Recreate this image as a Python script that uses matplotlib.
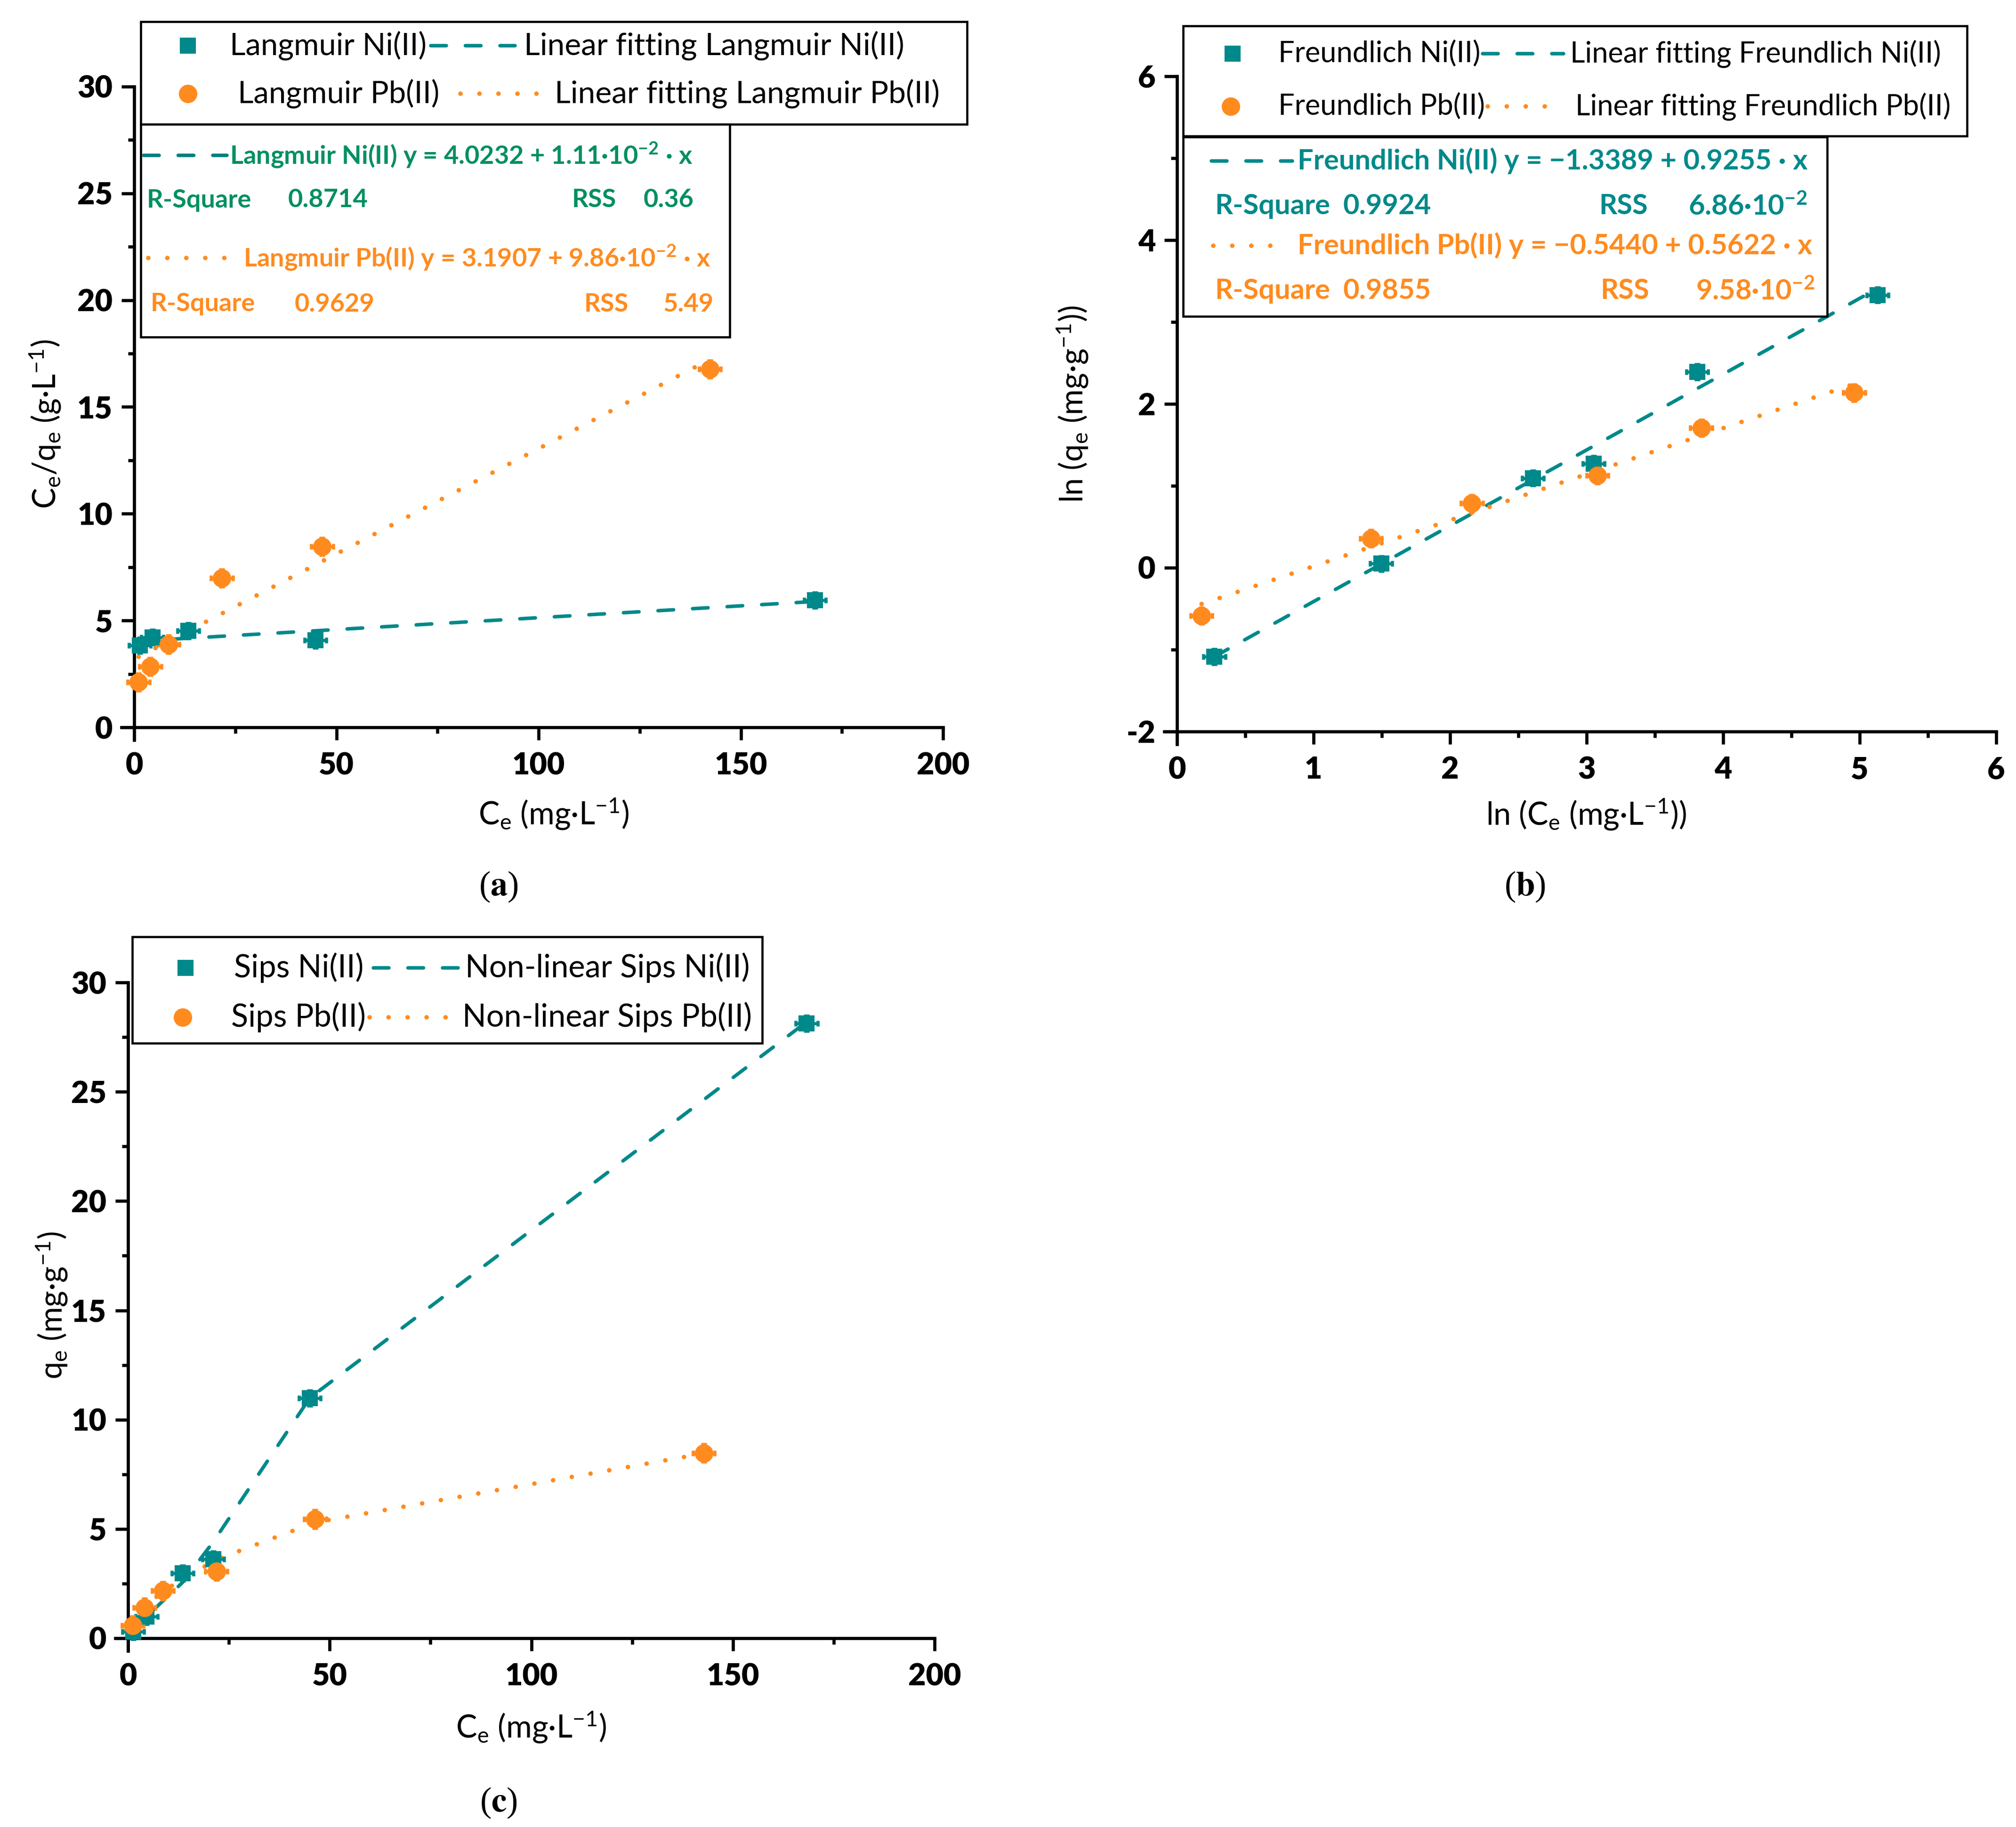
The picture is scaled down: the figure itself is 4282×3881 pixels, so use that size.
import matplotlib
matplotlib.use('Agg')
import matplotlib.pyplot as plt
from matplotlib.lines import Line2D
from matplotlib.patches import Rectangle
from matplotlib.ticker import AutoMinorLocator

plt.rcParams['font.family'] = ['Lato', 'DejaVu Sans']
plt.rcParams['mathtext.fontset'] = 'custom'
plt.rcParams['mathtext.rm'] = 'Lato'
plt.rcParams['mathtext.it'] = 'Lato:italic'
plt.rcParams['mathtext.bf'] = 'Lato:bold'

# ---------------- data ----------------
# (a) Langmuir linear form: Ce/qe vs Ce
lang_ni_x = [1.4, 4.5, 13.4, 44.8, 168.3]
lang_ni_y = [3.84, 4.22, 4.52, 4.08, 5.95]
lang_pb_x = [1.1, 4.0, 8.5, 21.7, 46.5, 142.4]
lang_pb_y = [2.11, 2.85, 3.89, 6.99, 8.47, 16.78]
lang_ni_fit_x = [1.4, 168.3]
lang_ni_fit_y = [4.039, 5.891]
lang_pb_fit_x = [1.1, 142.4]
lang_pb_fit_y = [3.299, 17.231]

# (b) Freundlich linear form: ln qe vs ln Ce
fr_ni_x = [0.274, 1.495, 2.607, 3.052, 3.810, 5.130]
fr_ni_y = [-1.086, 0.05, 1.093, 1.27, 2.39, 3.33]
fr_pb_x = [0.18, 1.42, 2.16, 3.08, 3.84, 4.96]
fr_pb_y = [-0.586, 0.357, 0.786, 1.129, 1.707, 2.136]
fr_ni_fit_x = [0.274, 5.130]
fr_ni_fit_y = [-1.085, 3.409]
fr_pb_fit_x = [0.18, 4.96]
fr_pb_fit_y = [-0.443, 2.244]

# (c) Sips non-linear: qe vs Ce
sips_ni_x = [1.3, 4.6, 13.5, 21.1, 45.1, 168.3]
sips_ni_y = [0.3, 1.0, 2.97, 3.62, 10.98, 28.13]
sips_pb_x = [1.2, 4.1, 8.6, 21.9, 46.4, 142.8]
sips_pb_y = [0.58, 1.4, 2.17, 3.06, 5.45, 8.47]
sips_ni_fit_x = [0.3, 1.3, 4.6, 13.5, 21.1, 45.1, 168.3]
sips_ni_fit_y = [0.15, 0.25, 1.0, 2.55, 4.4, 11.0, 28.2]
sips_pb_fit_x = [1.2, 4.1, 8.6, 21.9, 46.4, 142.8]
sips_pb_fit_y = [0.55, 1.4, 2.15, 3.6, 5.3, 8.45]

# tick labels
ce_ticks = [0, 50, 100, 150, 200]
ratio_ticks = [0, 5, 10, 15, 20, 25, 30]
lnce_ticks = [0, 1, 2, 3, 4, 5, 6]
lnq_ticks = [-2, 0, 2, 4, 6]
lnq_labels = ['-2', '0', '2', '4', '6']

TEAL = '#00898A'
TEAL_DK = '#007F7E'
GREEN_TXT = '#008F62'
ORANGE = '#FF8B1F'
TICK_WEIGHT = 'heavy'

W, H = 4282, 3881
fig = plt.figure(figsize=(W / 300, H / 300), dpi=300)


def fx(px):
    return px / W


def fy(py):
    return 1 - py / H


def make_axes(x0, x1, y0, y1):
    # pixel box of the plotting area (x0 left, x1 right, y0 top, y1 bottom)
    return fig.add_axes([fx(x0), fy(y1), fx(x1) - fx(x0), (y1 - y0) / H])


def style_axes(ax, xt, yt, ylabels=None):
    for s in ['top', 'right']:
        ax.spines[s].set_visible(False)
    for s in ['left', 'bottom']:
        ax.spines[s].set_linewidth(1.6)
    ax.set_xticks(xt)
    ax.set_xticklabels([str(t) for t in xt], fontweight=TICK_WEIGHT)
    ax.set_yticks(yt)
    ax.set_yticklabels(ylabels or [str(t) for t in yt], fontweight=TICK_WEIGHT)
    ax.xaxis.set_minor_locator(AutoMinorLocator(2))
    ax.yaxis.set_minor_locator(AutoMinorLocator(2))
    ax.tick_params(which='major', direction='out', length=6.5, width=1.6,
                   labelsize=15.5)
    ax.tick_params(which='minor', direction='out', length=3.2, width=1.6)
    ax.tick_params(axis='x', pad=6)
    ax.tick_params(axis='y', pad=4.5)
    # Origin-style: axis lines run on past the origin by a tick length
    x0, x1 = ax.get_xlim()
    y0, y1 = ax.get_ylim()
    bb = ax.get_position()
    wpx, hpx = bb.width * W, bb.height * H
    ax.spines['bottom'].set_bounds(x0 - 27 / wpx * (x1 - x0), x1)
    ax.spines['left'].set_bounds(y0 - 27 / hpx * (y1 - y0), y1)


DASH = dict(color=TEAL, lw=1.8, dashes=(4.4, 5.4), dash_capstyle='round')
DOT = dict(color=ORANGE, lw=2.3, dashes=(0.01, 4.2), dash_capstyle='round')


def points(ax, x, y, marker, color, xe, ye, ms):
    ax.errorbar(x, y, xerr=xe, yerr=ye, fmt=marker, color=color, ms=ms,
                mec=color, ecolor=color, elinewidth=1.6, capsize=1.5,
                capthick=1.6, zorder=4, clip_on=False)


def fig_line(x0, x1, y, style):
    fig.add_artist(Line2D([fx(x0), fx(x1)], [fy(y), fy(y)],
                          transform=fig.transFigure, zorder=6, **style))


def fig_marker(x, y, marker, color, ms):
    fig.add_artist(Line2D([fx(x)], [fy(y)], marker=marker, color=color,
                          ms=ms, ls='none', transform=fig.transFigure,
                          zorder=6))


def fig_box(x0, x1, y0, y1):
    fig.add_artist(Rectangle((fx(x0), fy(y1)), fx(x1) - fx(x0),
                             (y1 - y0) / H, transform=fig.transFigure,
                             facecolor='white', edgecolor='black', lw=1.1,
                             zorder=5))


def ftxt(x, y, s, size=16, color='black', weight='normal'):
    fig.text(fx(x), fy(y), s, ha='left', va='center', fontsize=size,
             color=color, fontweight=weight, zorder=7)


def labels(ax, xl, yl, xc, yc):
    ax.set_xlabel(xl, fontsize=16)
    ax.set_ylabel(yl, fontsize=16)
    ax.xaxis.set_label_coords(*xc)
    ax.yaxis.set_label_coords(*yc)
    ax.xaxis.label.set_verticalalignment('center')
    ax.yaxis.label.set_verticalalignment('center')


# ---------------- (a) Langmuir ----------------
axa = make_axes(285, 2003, 184, 1545)
axa.set_xlim(0, 200)
axa.set_ylim(0, 30)
axa.plot(lang_ni_fit_x, lang_ni_fit_y, zorder=3, **DASH)
axa.plot(lang_pb_fit_x, lang_pb_fit_y, zorder=3, **DOT)
points(axa, lang_ni_x, lang_ni_y, 's', TEAL, 2.7, 0.35, 7.3)
points(axa, lang_pb_x, lang_pb_y, 'o', ORANGE, 2.7, 0.4, 8.4)
style_axes(axa, ce_ticks, ratio_ticks)
labels(axa, 'C$_\\mathrm{e}$ (mg·L$^{-1}$)',
       'C$_\\mathrm{e}$/q$_\\mathrm{e}$ (g·L$^{-1}$)',
       (0.519, -0.135), (-0.110, 0.473))

fig_box(299, 2054, 46, 264)
fig_marker(399, 97, 's', TEAL, 7.3)
ftxt(488, 97, 'Langmuir Ni(II)', 15.6)
fig_line(915, 1094, 97, DASH)
ftxt(1113, 97, 'Linear fitting Langmuir Ni(II)', 15.8)
fig_marker(399, 199, 'o', ORANGE, 8.4)
ftxt(505, 199, 'Langmuir Pb(II)', 15.6)
fig_line(978, 1157, 199, DOT)
ftxt(1178, 199, 'Linear fitting Langmuir Pb(II)', 15.8)

BA = 13
fig_box(299, 1550, 264, 716)
fig_line(305, 482, 330, dict(DASH, color=TEAL_DK))
ftxt(488, 330, 'Langmuir Ni(II) y = 4.0232 + 1.11·10$^{\\mathbf{-2}}$ · x',
     BA, GREEN_TXT, 'bold')
ftxt(312, 425, 'R-Square', BA, GREEN_TXT, 'bold')
ftxt(612, 425, '0.8714', BA, GREEN_TXT, 'bold')
ftxt(1215, 425, 'RSS', BA, GREEN_TXT, 'bold')
ftxt(1367, 425, '0.36', BA, GREEN_TXT, 'bold')
fig_line(315, 493, 548, DOT)
ftxt(517, 548, 'Langmuir Pb(II) y = 3.1907 + 9.86·10$^{\\mathbf{-2}}$ · x',
     BA, ORANGE, 'bold')
ftxt(320, 646, 'R-Square', BA, ORANGE, 'bold')
ftxt(626, 646, '0.9629', BA, ORANGE, 'bold')
ftxt(1241, 646, 'RSS', BA, ORANGE, 'bold')
ftxt(1409, 646, '5.49', BA, ORANGE, 'bold')

# ---------------- (b) Freundlich ----------------
axb = make_axes(2500, 4240, 162, 1554)
axb.set_xlim(0, 6)
axb.set_ylim(-2, 6)
axb.plot(fr_ni_fit_x, fr_ni_fit_y, zorder=3, **DASH)
axb.plot(fr_pb_fit_x, fr_pb_fit_y, zorder=3, **DOT)
points(axb, fr_ni_x, fr_ni_y, 's', TEAL, 0.08, 0.09, 7.3)
points(axb, fr_pb_x, fr_pb_y, 'o', ORANGE, 0.08, 0.1, 8.4)
style_axes(axb, lnce_ticks, lnq_ticks, lnq_labels)
labels(axb, 'ln (C$_\\mathrm{e}$ (mg·L$^{-1}$))',
       'ln (q$_\\mathrm{e}$ (mg·g$^{-1}$))',
       (0.4994, -0.126), (-0.1276, 0.50))

LB = 14.7
fig_box(2513, 4178, 55, 289)
fig_marker(2618, 114, 's', TEAL, 7.3)
ftxt(2715, 114, 'Freundlich Ni(II)', LB)
fig_line(3149, 3321, 114, DASH)
ftxt(3335, 114, 'Linear fitting Freundlich Ni(II)', LB)
fig_marker(2614, 226, 'o', ORANGE, 8.4)
ftxt(2715, 226, 'Freundlich Pb(II)', LB)
fig_line(3160, 3304, 226, DOT)
ftxt(3346, 226, 'Linear fitting Freundlich Pb(II)', LB)

BB = 14.3
fig_box(2513, 3881, 291, 672)
fig_line(2573, 2745, 342, DASH)
ftxt(2756, 342, 'Freundlich Ni(II) y = −1.3389 + 0.9255 · x', BB, TEAL, 'bold')
ftxt(2580, 438, 'R-Square', BB, TEAL, 'bold')
ftxt(2852, 438, '0.9924', BB, TEAL, 'bold')
ftxt(3396, 438, 'RSS', BB, TEAL, 'bold')
ftxt(3586, 438, '6.86·10$^{\\mathbf{-2}}$', BB, TEAL, 'bold')
fig_line(2577, 2714, 522, DOT)
ftxt(2756, 522, 'Freundlich Pb(II) y = −0.5440 + 0.5622 · x', BB, ORANGE, 'bold')
ftxt(2580, 618, 'R-Square', BB, ORANGE, 'bold')
ftxt(2852, 618, '0.9855', BB, ORANGE, 'bold')
ftxt(3399, 618, 'RSS', BB, ORANGE, 'bold')
ftxt(3602, 618, '9.58·10$^{\\mathbf{-2}}$', BB, ORANGE, 'bold')

# ---------------- (c) Sips ----------------
axc = make_axes(272, 1985, 2087, 3480)
axc.set_xlim(0, 200)
axc.set_ylim(0, 30)
axc.plot(sips_ni_fit_x, sips_ni_fit_y, zorder=3, **DASH)
axc.plot(sips_pb_fit_x, sips_pb_fit_y, zorder=3, **DOT)
points(axc, sips_ni_x, sips_ni_y, 's', TEAL, 2.7, 0.35, 7.3)
points(axc, sips_pb_x, sips_pb_y, 'o', ORANGE, 2.7, 0.4, 8.4)
style_axes(axc, ce_ticks, ratio_ticks)
labels(axc, 'C$_\\mathrm{e}$ (mg·L$^{-1}$)', 'q$_\\mathrm{e}$ (mg·g$^{-1}$)',
       (0.4997, -0.1357), (-0.0946, 0.5075))

fig_box(281, 1619, 1990, 2216)
fig_marker(394, 2056, 's', TEAL, 7.3)
ftxt(497, 2056, 'Sips Ni(II)')
fig_line(793, 974, 2056, DASH)
ftxt(988, 2056, 'Non-linear Sips Ni(II)')
fig_marker(388, 2161, 'o', ORANGE, 8.4)
ftxt(491, 2161, 'Sips Pb(II)')
fig_line(785, 967, 2161, DOT)
ftxt(982, 2161, 'Non-linear Sips Pb(II)')

# ---------------- captions ----------------
for cx, cy, lab in [(1059, 1884, 'a'), (3239, 1884, 'b'), (1059, 3830, 'c')]:
    fig.text(fx(cx), fy(cy), '($\\mathbf{' + lab + '}$)', ha='center',
             va='center', fontsize=17.5, family='Liberation Serif',
             math_fontfamily='stix')

fig.canvas.draw()
for ax in (axa, axb, axc):
    for lab in ax.get_xticklabels() + ax.get_yticklabels():
        lab.set_fontweight(TICK_WEIGHT)

fig.savefig('out.png', dpi=300)
